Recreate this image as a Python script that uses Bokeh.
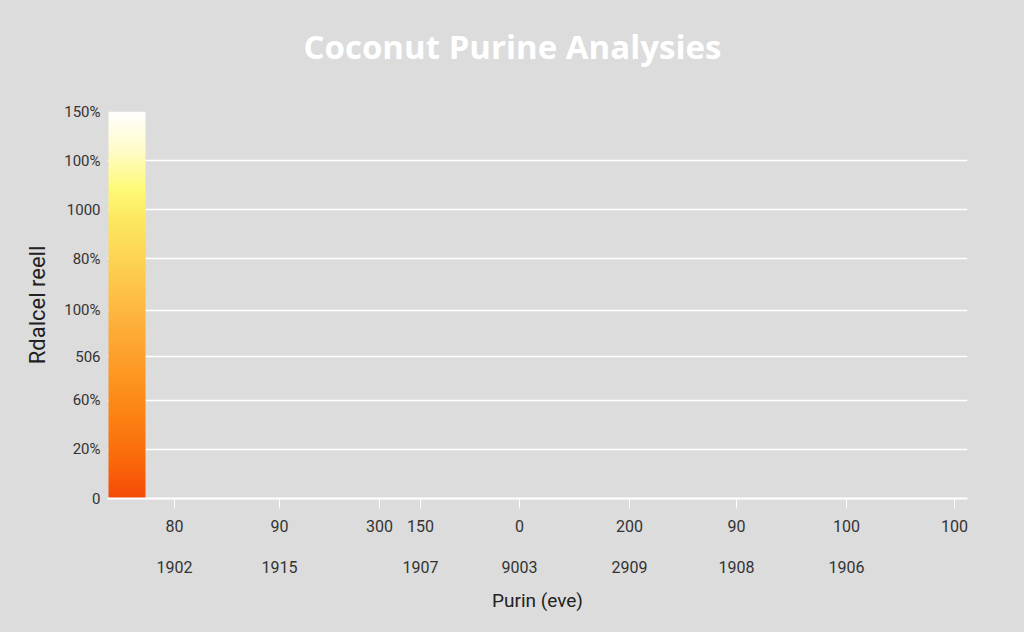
import numpy as np
from bokeh.plotting import figure
from bokeh.models import FixedTicker, LinearAxis, Range1d, Title
from bokeh.embed import file_html
from bokeh.resources import INLINE
from bokeh.core.templates import get_env

# ---- data ----
title_text = "Coconut Purine Analysies"
y_title = "Rdalcel reell"
x_title = "Purin (eve)"

bar_categories = ["Coconut"]
bar_positions = [19.5]
bar_widths = [37]
bar_values = [150]

y_tick_values = [0, 19, 38, 55, 73, 93, 112, 131, 150]
y_tick_labels = ["0", "20%", "60%", "506", "100%", "80%", "1000", "100%", "150%"]
grid_values = [19, 38, 55, 73, 93, 112, 131]

x_tick_values = [67, 172, 272, 313, 412, 522, 629, 739, 847]
x_tick_labels = ["80", "90", "300", "150", "0", "200", "90", "100", "100"]
x_row2_values = [67, 172, 313, 412, 522, 629, 739]
x_row2_labels = ["1902", "1915", "1907", "9003", "2909", "1908", "1906"]

BG = "#dcdcdc"
FONT = "Roboto"

p = figure(width=1008, height=616, output_backend="svg", toolbar_location=None,
           x_range=Range1d(0, 860), y_range=Range1d(0, 150),
           min_border_left=107, min_border_right=41, min_border_top=111,
           min_border_bottom=118)
p.background_fill_color = None
p.border_fill_color = BG
p.outline_line_color = None

# title
p.title.text = title_text
p.title.align = "left"
p.title.vertical_align = "top"
p.title.text_color = "white"
p.title.text_font = "Open Sans"
p.title.text_font_style = "bold"
p.title.text_font_size = "33px"
p.title.offset = 196
p.title.standoff = 0

# empty spacer between the title and the frame
spacer = Title(text=" ", text_font_size="10px", standoff=28)
p.add_layout(spacer, "above")

# gradient bar
stops = [0.0, 0.1, 0.25, 0.45, 0.6, 0.72, 0.8, 0.9, 1.0]
cols = ["#f54a08", "#fb6a0a", "#fd8a18", "#fdb03a", "#fdd050", "#fde860",
        "#fffa78", "#fffcc8", "#ffffff"]
rgb = np.array([[int(c[i:i + 2], 16) for i in (1, 3, 5)] for c in cols], dtype=float)
N = 300
t = np.linspace(0, 1, N)
img = np.zeros((N, 1), dtype=np.uint32)
view = img.view(dtype=np.uint8).reshape((N, 1, 4))
for ch in range(3):
    view[:, 0, ch] = np.interp(t, stops, rgb[:, ch]).astype(np.uint8)
view[:, 0, 3] = 255

for xc, w, v in zip(bar_positions, bar_widths, bar_values):
    p.image_rgba(image=[img], x=xc - w / 2, y=0, dw=w, dh=v)

# y axis
yax = p.yaxis[0]
yax.ticker = FixedTicker(ticks=y_tick_values)
yax.major_label_overrides = {v: l for v, l in zip(y_tick_values, y_tick_labels)}
yax.axis_line_color = None
yax.major_tick_line_color = None
yax.minor_tick_line_color = None
yax.major_tick_out = 0
yax.major_label_standoff = 7
yax.major_label_text_font = FONT
yax.major_label_text_font_size = "15px"
yax.major_label_text_color = "#333333"
yax.axis_label = y_title
yax.axis_label_text_font = FONT
yax.axis_label_text_font_style = "normal"
yax.axis_label_text_font_size = "22px"
yax.axis_label_text_color = "#222222"
yax.axis_label_standoff = 11

# x axis row 1
xax = p.xaxis[0]
xax.ticker = FixedTicker(ticks=x_tick_values)
xax.major_label_overrides = {v: l for v, l in zip(x_tick_values, x_tick_labels)}
xax.axis_line_color = "white"
xax.axis_line_width = 2
xax.major_tick_line_color = "white"
xax.major_tick_line_width = 1
xax.major_tick_in = 0
xax.major_tick_out = 10
xax.minor_tick_line_color = None
xax.major_label_standoff = 11
xax.major_label_text_font = FONT
xax.major_label_text_font_size = "16px"
xax.major_label_text_color = "#333333"

# x axis row 2
ax2 = LinearAxis(ticker=FixedTicker(ticks=x_row2_values),
                 major_label_overrides={v: l for v, l in zip(x_row2_values, x_row2_labels)})
ax2.axis_line_color = None
ax2.major_tick_line_color = None
ax2.minor_tick_line_color = None
ax2.major_tick_out = 0
ax2.major_tick_in = 0
ax2.major_label_standoff = 26
ax2.major_label_text_font = FONT
ax2.major_label_text_font_size = "16px"
ax2.major_label_text_color = "#333333"
ax2.axis_label = x_title
ax2.axis_label_text_font = FONT
ax2.axis_label_text_font_style = "normal"
ax2.axis_label_text_font_size = "19px"
ax2.axis_label_text_color = "#222222"
ax2.axis_label_standoff = 13
p.add_layout(ax2, "below")

# grid
p.xgrid.grid_line_color = None
p.ygrid.ticker = FixedTicker(ticks=grid_values)
p.ygrid.grid_line_color = "white"
p.ygrid.grid_line_width = 1.5

tmpl = get_env().from_string(
    '{% extends "file.html" %}{% block inner_head %}{{ super() }}'
    '<style>html, body { background: #dcdcdc; }</style>{% endblock %}'
)
open("out.html", "w").write(file_html(p, INLINE, template=tmpl))
